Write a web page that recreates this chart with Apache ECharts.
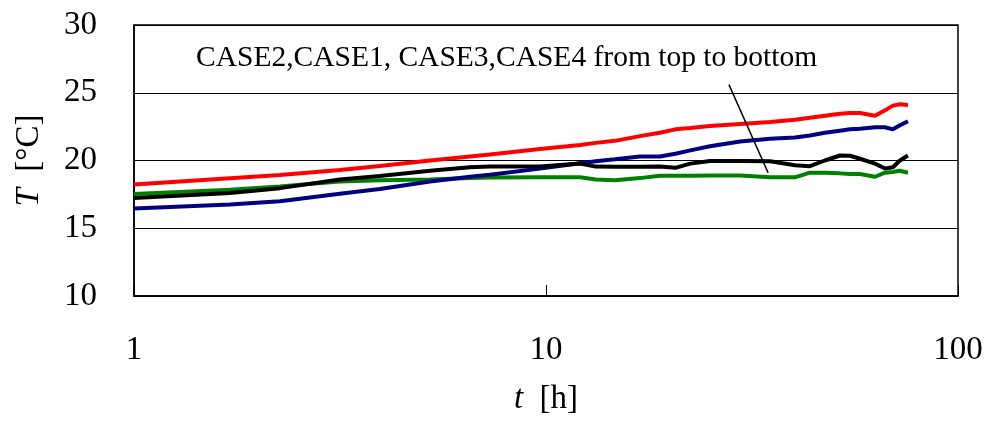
<!DOCTYPE html>
<html>
<head>
<meta charset="utf-8">
<script src="https://cdn.jsdelivr.net/npm/echarts@6/dist/echarts.min.js"></script>
<style>
  html, body { margin: 0; padding: 0; background: #fff; }
  #chart { width: 990px; height: 421px; }
</style>
</head>
<body>
<div id="chart"></div>
<script>
// Elapsed time [h]
const hours = [1, 1.71, 2.26, 3.16, 3.95, 5.23, 6.54, 7.31, 9.67, 12.1, 13.2, 14.7, 16.9, 18.9, 20.6,
  22.4, 25.0, 29.6, 35.0, 40.2, 43.7, 47.5, 51.7, 54.7, 57.8, 62.9, 66.5, 69.5, 72.3, 75.6];

// Temperature [°C] for each case
const case2 = [18.23, 18.69, 18.93, 19.3, 19.6, 20.0, 20.3, 20.45, 20.85, 21.15, 21.3, 21.45, 21.8, 22.05, 22.3,
  22.4, 22.55, 22.7, 22.85, 23.0, 23.15, 23.3, 23.45, 23.5, 23.5, 23.3, 23.7, 24.05, 24.15, 24.1];
const case1 = [16.45, 16.76, 17.0, 17.55, 17.9, 18.45, 18.8, 18.95, 19.4, 19.8, 19.95, 20.1, 20.3, 20.3, 20.5,
  20.75, 21.05, 21.4, 21.6, 21.7, 21.85, 22.05, 22.2, 22.3, 22.35, 22.45, 22.45, 22.3, 22.6, 22.9];
const case3 = [17.24, 17.6, 17.96, 18.6, 18.85, 19.24, 19.5, 19.55, 19.55, 19.77, 19.55, 19.53, 19.53, 19.55, 19.46,
  19.77, 19.96, 19.96, 19.95, 19.65, 19.58, 20.0, 20.37, 20.35, 20.13, 19.77, 19.41, 19.5, 20.0, 20.37];
const case4 = [17.53, 17.85, 18.09, 18.45, 18.55, 18.6, 18.7, 18.75, 18.76, 18.76, 18.6, 18.55, 18.7, 18.88, 18.88,
  18.88, 18.9, 18.9, 18.76, 18.76, 19.1, 19.1, 19.05, 19.0, 19.0, 18.8, 19.1, 19.15, 19.24, 19.1];

// Leader line from the note down to the curves: [t, T] end points
const leaderStart = [27.8, 25.6];
const leaderEnd = [34.6, 19.1];

const xTicks = [1, 10, 100];
const yTicks = [10, 15, 20, 25, 30];
const noteText = 'CASE2,CASE1, CASE3,CASE4 from top to bottom';

const serif = '"Liberation Serif", "Times New Roman", serif';

function pairs(vals) { return hours.map((t, i) => [t, vals[i]]); }

function line(name, vals, color) {
  return {
    name, type: 'line', data: pairs(vals), showSymbol: false, smooth: false,
    lineStyle: { color, width: 4 }, itemStyle: { color }, z: 3
  };
}

const chart = echarts.init(document.getElementById('chart'), null, { renderer: 'canvas' });

const series = [
  line('CASE4', case4, '#008000'),
  line('CASE1', case1, '#000080'),
  line('CASE3', case3, '#000000'),
  line('CASE2', case2, '#ff0000')
];
series[3].markLine = {
  silent: true, symbol: ['none', 'none'], label: { show: false },
  lineStyle: { color: '#000', width: 1.5, type: 'solid' },
  data: [[{ coord: leaderStart }, { coord: leaderEnd }]]
};

chart.setOption({
  animation: false,
  backgroundColor: '#fff',
  grid: { left: 134, right: 32, top: 25, bottom: 119, show: true, borderColor: '#000', borderWidth: 1.5, backgroundColor: 'transparent' },
  xAxis: {
    type: 'log', logBase: 10, min: xTicks[0], max: xTicks[xTicks.length - 1],
    name: '{i|t}  [h]', nameLocation: 'middle', nameGap: 87,
    nameTextStyle: { fontFamily: serif, fontSize: 33, color: '#000',
      rich: { i: { fontFamily: serif, fontStyle: 'italic', fontSize: 33, color: '#000' } } },
    axisLine: { show: true, lineStyle: { color: '#000', width: 1.5 } },
    axisTick: { show: true, inside: true, length: 11, lineStyle: { color: '#000', width: 1 } },
    minorTick: { show: false },
    splitLine: { show: false },
    axisLabel: { fontFamily: serif, fontSize: 33, color: '#000', margin: 38 }
  },
  yAxis: {
    type: 'value', min: yTicks[0], max: yTicks[yTicks.length - 1], interval: 5,
    name: '{i|T}  [°C]', nameLocation: 'middle', nameGap: 88, nameRotate: 90,
    nameTextStyle: { fontFamily: serif, fontSize: 33, color: '#000',
      rich: { i: { fontFamily: serif, fontStyle: 'italic', fontSize: 33, color: '#000' } } },
    axisLine: { show: true, lineStyle: { color: '#000', width: 1.5 } },
    axisTick: { show: false },
    splitLine: { show: true, lineStyle: { color: '#000', width: 1 } },
    axisLabel: { fontFamily: serif, fontSize: 33, color: '#000', margin: 37 }
  },
  graphic: [{
    type: 'text', left: 196, top: 43, z: 10,
    style: { text: noteText, fontFamily: serif, fontSize: 29.5, fill: '#000' }
  }],
  series
});
</script>
</body>
</html>
